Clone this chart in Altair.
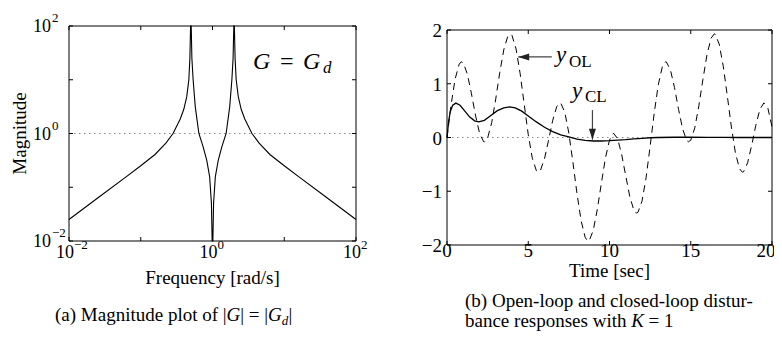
import altair as alt
import pandas as pd

# ---------------- data ----------------
# (a) magnitude |G(jw)| = |Gd(jw)|
freq = [0.01, 0.0251, 0.0631, 0.1, 0.158, 0.224, 0.282, 0.355, 0.398, 0.437,
        0.468, 0.484, 0.495, 0.5, 0.505, 0.516, 0.537, 0.575, 0.646, 0.741,
        0.832, 0.912, 0.966, 0.989, 1.0, 1.012, 1.035, 1.096, 1.202, 1.349,
        1.549, 1.738, 1.862, 1.936, 1.982, 2.0, 2.018, 2.065, 2.138, 2.291,
        2.512, 2.818, 3.548, 4.467, 6.31, 10.0, 15.85, 39.8, 100.0]
mag = [0.0251, 0.0631, 0.158, 0.251, 0.407, 0.661, 1.0, 1.86, 2.82, 4.79,
       10.0, 25.1, 100.0, 1000.0, 100.0, 25.1, 10.0, 3.16, 1.0, 0.562,
       0.316, 0.158, 0.0501, 0.01, 0.001, 0.01, 0.0501, 0.158, 0.316, 0.562,
       1.0, 3.16, 10.0, 25.1, 100.0, 1000.0, 100.0, 25.1, 10.0, 4.79,
       2.82, 1.86, 1.0, 0.661, 0.407, 0.251, 0.158, 0.0631, 0.0251]

# (b) open-loop response (dashed)
t_ol = [0.0, 0.25, 0.5, 0.75, 0.875, 1.0, 1.25, 1.5, 1.75, 2.0, 2.25, 2.32, 2.5, 2.75,
        3.0, 3.25, 3.5, 3.75, 3.95, 4.0, 4.25, 4.5, 4.75, 5.0, 5.25, 5.5, 5.62, 5.75,
        6.0, 6.25, 6.5, 6.75, 6.95, 7.0, 7.25, 7.5, 7.75, 8.0, 8.25, 8.5, 8.65, 8.75,
        9.0, 9.25, 9.5, 9.75, 10.0, 10.25, 10.5, 10.75, 11.0, 11.25, 11.5, 11.65, 11.75,
        12.0, 12.25, 12.5, 12.75, 13.0, 13.25, 13.45, 13.5, 13.75, 14.0, 14.25, 14.5,
        14.75, 14.85, 15.0, 15.25, 15.5, 15.75, 16.0, 16.25, 16.45, 16.5, 16.75, 17.0,
        17.25, 17.5, 17.75, 18.0, 18.18, 18.25, 18.5, 18.75, 19.0, 19.25, 19.5, 19.75, 20.0]
y_ol = [0.0, 0.604, 1.088, 1.363, 1.408, 1.388, 1.183, 0.823, 0.417, 0.084, -0.076, -0.083, -0.010, 0.275,
        0.718, 1.214, 1.641, 1.892, 1.918, 1.898, 1.648, 1.190, 0.619, 0.054, -0.387, -0.618, -0.645, -0.611,
        -0.396, -0.049, 0.312, 0.573, 0.645, 0.640, 0.469, 0.078, -0.464, -1.045, -1.544, -1.856, -1.926, -1.920,
        -1.729, -1.338, -0.849, -0.382, -0.046, 0.079, -0.022, -0.317, -0.715, -1.100, -1.354, -1.407, -1.393,
        -1.185, -0.750, -0.165, 0.450, 0.978, 1.316, 1.409, 1.406, 1.258, 0.928, 0.522, 0.159,
        -0.054, -0.080, -0.050, 0.181, 0.591, 1.083, 1.540, 1.848, 1.928, 1.923, 1.739, 1.327,
        0.774, 0.196, -0.288, -0.580, -0.646, -0.637, -0.470, -0.147, 0.221, 0.519, 0.645, 0.539, 0.201]

# (b) closed-loop response (solid)
t_cl = [0, 0.1, 0.2, 0.35, 0.55, 0.8, 1.1, 1.4, 1.7, 1.95, 2.3, 2.7, 3.1, 3.5, 3.85,
        4.2, 4.6, 5.0, 5.5, 6.0, 6.5, 7.0, 7.5, 8.0, 8.5, 9.0, 9.5, 10.0, 10.5, 11.0,
        11.5, 12.0, 12.5, 13.0, 14.0, 15.0, 16.0, 17.0, 18.0, 19.0, 20.0]
y_cl = [0, 0.3, 0.48, 0.6, 0.64, 0.6, 0.49, 0.38, 0.31, 0.29, 0.32, 0.41, 0.5, 0.55, 0.57,
        0.55, 0.49, 0.4, 0.29, 0.19, 0.11, 0.05, 0.01, -0.03, -0.055, -0.065, -0.065, -0.06, -0.05, -0.04,
        -0.025, -0.015, -0.005, 0.0, 0.005, 0.005, 0.003, 0.001, 0.0, 0.0, 0.0]

# axes
freq_domain = [0.01, 100]
mag_domain = [0.01, 100]
freq_ticks = [0.01, 0.1, 1, 10, 100]
mag_ticks = [0.01, 0.1, 1, 10, 100]
log_label_values = [0.01, 1, 100]
log_label_exps = ["\u22122", "0", "2"]
mag_ref = [1.0]

time_domain = [0, 20]
resp_domain = [-2, 2]
time_ticks = [0, 5, 10, 15, 20]
time_tick_labels = ["0", "5", "10", "15", "20"]
resp_ticks = [-2, -1, 0, 1, 2]
resp_tick_labels = ["\u22122", "\u22121", "0", "1", "2"]
resp_ref = [0.0]

# annotation arrows (data coordinates)
ol_arrow = {"t0": [6.45], "t1": [4.38], "y": [1.5]}
cl_arrow = {"t": [8.95], "y0": [0.51], "y1": [-0.04]}

# ---------------- layout (pixels inside the view) ----------------
W, H = 766, 323
LX0, LX1, LY0, LY1 = 61, 348, 18, 233
RX0, RX1, RY0, RY1 = 439, 764, 22, 237
FONT = "Liberation Serif"
TICK = 4

xL = alt.Scale(type="log", domain=freq_domain, range=[LX0, LX1], clamp=True)
yL = alt.Scale(type="log", domain=mag_domain, range=[LY1, LY0], clamp=True)
xR = alt.Scale(domain=time_domain, range=[RX0, RX1])
yR = alt.Scale(domain=resp_domain, range=[RY1, RY0])

one = pd.DataFrame({"_": [0]})


def txt(text, x, y, size=19, style="normal", align="left", baseline="alphabetic", angle=0):
    return alt.Chart(one).mark_text(
        text=text, font=FONT, fontSize=size, fontStyle=style, align=align,
        baseline=baseline, angle=angle, color="black"
    ).encode(x=alt.value(x), y=alt.value(y))


layers = []

# ======== left panel ========
df_g = pd.DataFrame({"freq": freq, "mag": mag})
layers.append(
    alt.Chart(pd.DataFrame({"x": [freq_domain[0]], "x2": [freq_domain[1]], "m": mag_ref}))
    .mark_rule(color="#8a8a8a", strokeDash=[1.5, 3.5], strokeWidth=1)
    .encode(x=alt.X("x:Q", scale=xL, axis=None), x2="x2:Q", y=alt.Y("m:Q", scale=yL, axis=None))
)
layers.append(
    alt.Chart(df_g).mark_line(color="black", strokeWidth=1.1)
    .encode(x=alt.X("freq:Q", scale=xL, axis=None), y=alt.Y("mag:Q", scale=yL, axis=None))
)
layers.append(
    alt.Chart(pd.DataFrame({"x": [freq_domain[0]], "x2": [freq_domain[1]],
                            "y": [mag_domain[0]], "y2": [mag_domain[1]]}))
    .mark_rect(fillOpacity=0, stroke="black", strokeWidth=1)
    .encode(x=alt.X("x:Q", scale=xL, axis=None), x2="x2:Q",
            y=alt.Y("y:Q", scale=yL, axis=None), y2="y2:Q")
)
df_ft = pd.DataFrame({"v": freq_ticks})
df_mt = pd.DataFrame({"v": mag_ticks})
for ya, yb in [(LY1, LY1 - TICK), (LY0, LY0 + TICK)]:
    layers.append(alt.Chart(df_ft).mark_rule(color="black")
                  .encode(x=alt.X("v:Q", scale=xL, axis=None), y=alt.value(ya), y2=alt.value(yb)))
for xa, xb in [(LX0, LX0 + TICK), (LX1, LX1 - TICK)]:
    layers.append(alt.Chart(df_mt).mark_rule(color="black")
                  .encode(y=alt.Y("v:Q", scale=yL, axis=None), x=alt.value(xa), x2=alt.value(xb)))
df_ll = pd.DataFrame({"v": log_label_values, "e": log_label_exps})
# x tick labels 10^k
layers.append(alt.Chart(df_ll).mark_text(text="10", font=FONT, fontSize=18, align="center",
                                         baseline="middle", dx=-4)
              .encode(x=alt.X("v:Q", scale=xL, axis=None), y=alt.value(245)))
layers.append(alt.Chart(df_ll).mark_text(font=FONT, fontSize=13, align="left",
                                         baseline="middle", dx=5)
              .encode(x=alt.X("v:Q", scale=xL, axis=None), y=alt.value(237), text="e:N"))
# y tick labels 10^k
layers.append(alt.Chart(df_ll).mark_text(text="10", font=FONT, fontSize=18, align="right",
                                         baseline="middle", dy=1)
              .encode(y=alt.Y("v:Q", scale=yL, axis=None), x=alt.value(LX0 - 18)))
layers.append(alt.Chart(df_ll).mark_text(font=FONT, fontSize=13, align="left",
                                         baseline="middle", dy=-8)
              .encode(y=alt.Y("v:Q", scale=yL, axis=None), x=alt.value(LX0 - 17), text="e:N"))
layers.append(txt("Frequency [rad/s]", (LX0 + LX1) / 2, 270, size=19, align="center", baseline="middle"))
layers.append(txt("Magnitude", 12, (LY0 + LY1) / 2, size=19, align="center", baseline="middle", angle=270))
# G = G_d
layers.append(txt("G", 245, 61, size=24, style="italic"))
layers.append(txt("=", 272, 61, size=24))
layers.append(txt("G", 295, 61, size=24, style="italic"))
layers.append(txt("d", 315, 65, size=17, style="italic"))

# ======== right panel ========
layers.append(
    alt.Chart(pd.DataFrame({"x": [time_domain[0]], "x2": [time_domain[1]], "r": resp_ref}))
    .mark_rule(color="#8a8a8a", strokeDash=[1.5, 3.5], strokeWidth=1)
    .encode(x=alt.X("x:Q", scale=xR, axis=None), x2="x2:Q", y=alt.Y("r:Q", scale=yR, axis=None))
)
layers.append(
    alt.Chart(pd.DataFrame({"t": t_ol, "y": y_ol})).mark_line(color="black", strokeWidth=1, strokeDash=[7, 5])
    .encode(x=alt.X("t:Q", scale=xR, axis=None), y=alt.Y("y:Q", scale=yR, axis=None))
)
layers.append(
    alt.Chart(pd.DataFrame({"t": t_cl, "y": y_cl})).mark_line(color="black", strokeWidth=1.3)
    .encode(x=alt.X("t:Q", scale=xR, axis=None), y=alt.Y("y:Q", scale=yR, axis=None))
)
layers.append(
    alt.Chart(pd.DataFrame({"x": [time_domain[0]], "x2": [time_domain[1]],
                            "y": [resp_domain[0]], "y2": [resp_domain[1]]}))
    .mark_rect(fillOpacity=0, stroke="black", strokeWidth=1)
    .encode(x=alt.X("x:Q", scale=xR, axis=None), x2="x2:Q",
            y=alt.Y("y:Q", scale=yR, axis=None), y2="y2:Q")
)
df_tt = pd.DataFrame({"v": time_ticks, "l": time_tick_labels})
df_rt = pd.DataFrame({"v": resp_ticks, "l": resp_tick_labels})
for ya, yb in [(RY1, RY1 - TICK), (RY0, RY0 + TICK)]:
    layers.append(alt.Chart(df_tt).mark_rule(color="black")
                  .encode(x=alt.X("v:Q", scale=xR, axis=None), y=alt.value(ya), y2=alt.value(yb)))
for xa, xb in [(RX0, RX0 + TICK), (RX1, RX1 - TICK)]:
    layers.append(alt.Chart(df_rt).mark_rule(color="black")
                  .encode(y=alt.Y("v:Q", scale=yR, axis=None), x=alt.value(xa), x2=alt.value(xb)))
df_tt_inner = df_tt.iloc[:-1]
df_tt_last = df_tt.iloc[-1:]
layers.append(alt.Chart(df_tt_inner).mark_text(font=FONT, fontSize=19, align="center", baseline="middle")
              .encode(x=alt.X("v:Q", scale=xR, axis=None), y=alt.value(RY1 + 6), text="l:N"))
layers.append(alt.Chart(df_tt_last).mark_text(font=FONT, fontSize=19, align="center", baseline="middle", dx=-6)
              .encode(x=alt.X("v:Q", scale=xR, axis=None), y=alt.value(RY1 + 6), text="l:N"))
layers.append(alt.Chart(df_rt).mark_text(font=FONT, fontSize=19, align="right", baseline="middle", dy=1)
              .encode(y=alt.Y("v:Q", scale=yR, axis=None), x=alt.value(RX0 - 5), text="l:N"))
layers.append(txt("Time [sec]", (RX0 + RX1) / 2, 263, size=19, align="center", baseline="middle"))

# arrows
df_ola = pd.DataFrame(ol_arrow)
layers.append(alt.Chart(df_ola).mark_rule(color="#444444", strokeWidth=1.2)
              .encode(x=alt.X("t0:Q", scale=xR, axis=None), x2="t1:Q", y=alt.Y("y:Q", scale=yR, axis=None)))
layers.append(alt.Chart(df_ola).mark_point(shape="M0,0L2.2,-0.7L2.2,0.7Z", size=100, filled=True,
                                           color="#222222", opacity=1, strokeWidth=0)
              .encode(x=alt.X("t1:Q", scale=xR, axis=None), y=alt.Y("y:Q", scale=yR, axis=None)))
df_cla = pd.DataFrame(cl_arrow)
layers.append(alt.Chart(df_cla).mark_rule(color="#444444", strokeWidth=1.2)
              .encode(x=alt.X("t:Q", scale=xR, axis=None), y=alt.Y("y0:Q", scale=yR, axis=None), y2="y1:Q"))
layers.append(alt.Chart(df_cla).mark_point(shape="M0,0L-0.7,-2.2L0.7,-2.2Z", size=100, filled=True,
                                           color="#222222", opacity=1, strokeWidth=0)
              .encode(x=alt.X("t:Q", scale=xR, axis=None), y=alt.Y("y1:Q", scale=yR, axis=None)))
# y_OL and y_CL labels
layers.append(txt("y", 548, 54, size=23, style="italic"))
layers.append(txt("OL", 561, 58.5, size=17))
layers.append(txt("y", 564, 90, size=23, style="italic"))
layers.append(txt("CL", 577, 94, size=17))

# ======== captions ========
CS = 19
layers.append(txt("(a) Magnitude plot of |", 47, 313, size=CS))
layers.append(txt("G", 218.6, 313, size=CS, style="italic"))
layers.append(txt("| = |", 232.3, 313, size=CS))
layers.append(txt("G", 260.1, 313, size=CS, style="italic"))
layers.append(txt("d", 273.8, 317, size=13, style="italic"))
layers.append(txt("|", 280.6, 313, size=CS))

layers.append(txt("(b) Open-loop and closed-loop distur-", 457, 299, size=CS))
layers.append(txt("bance responses with", 457, 319, size=CS))
layers.append(txt("K", 623.2, 319, size=CS, style="italic"))
layers.append(txt("= 1", 640.6, 319, size=CS))

chart = (
    alt.layer(*layers)
    .resolve_scale(x="independent", y="independent")
    .properties(width=W, height=H, autosize=alt.AutoSizeParams(type="none"), padding=0,
                background="white")
    .configure_view(stroke=None)
)

chart.save("out.html", embed_options={"renderer": "svg", "actions": False})
